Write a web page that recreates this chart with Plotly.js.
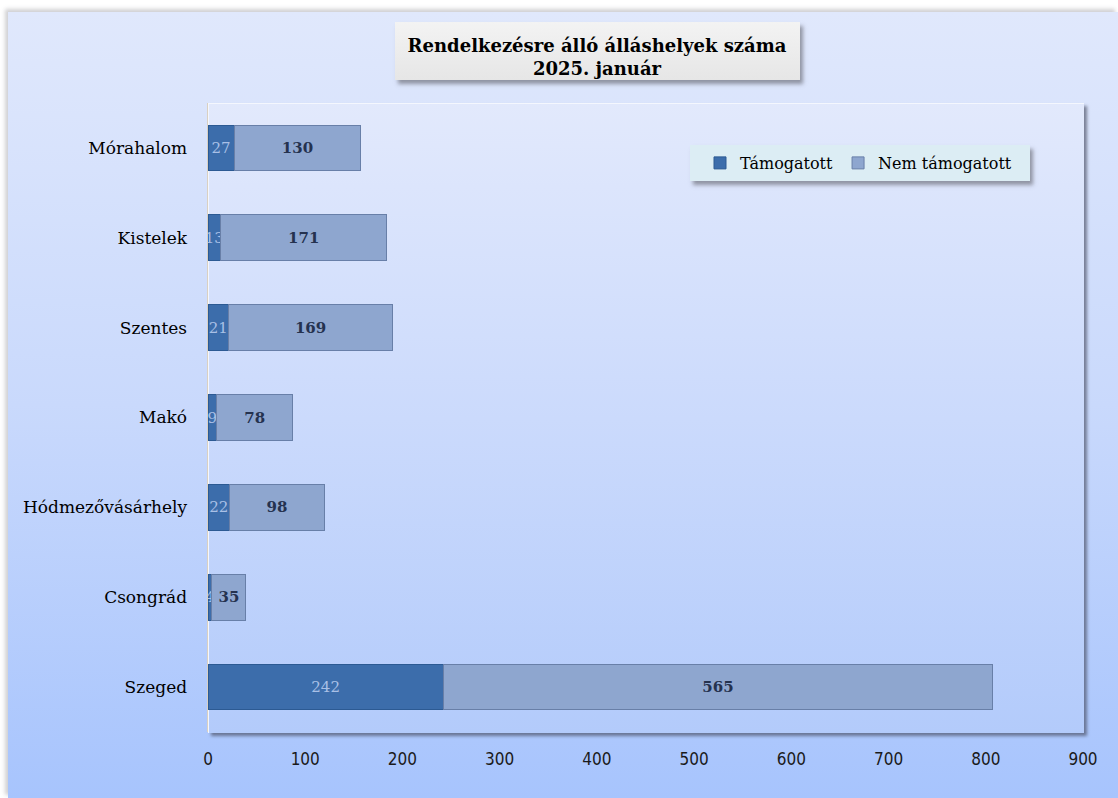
<!DOCTYPE html>
<html>
<head>
<meta charset="utf-8">
<script src="https://cdn.plot.ly/plotly-3.0.1.min.js"></script>
<style>
  html, body { margin: 0; padding: 0; background: #ffffff; }
  #wrap { position: relative; width: 1118px; height: 798px; overflow: hidden; background: #ffffff; }
  #outer { position: absolute; left: 8px; top: 12px; width: 1110px; height: 786px;
           background: linear-gradient(to bottom, #e0e8fc 0%, #c9d9fc 50%, #a7c4fd 100%);
           box-shadow: -3px -3px 4px rgba(120,120,130,0.35); }
  #plotbg { position: absolute; left: 208px; top: 103px; width: 875px; height: 629px;
            background: linear-gradient(to bottom, #e2e9fc 0%, #cbdafc 50%, #b3cbfb 100%);
            border-top: 1px solid #f4f7fe; border-left: 1px solid #f4f7fe;
            box-shadow: 3px 3px 3px rgba(70,75,95,0.65); }
  #titlebox { position: absolute; left: 395px; top: 22px; width: 405px; height: 58px;
              background: linear-gradient(to bottom, #f3f3f3, #e6e6e6);
              box-shadow: 3px 4px 4px rgba(80,80,90,0.55); }
  #legbox { position: absolute; left: 690px; top: 145px; width: 340px; height: 36px;
            background: #dcedf4; box-shadow: 3px 4px 4px rgba(80,80,90,0.55); }
  #chart { position: absolute; left: 0; top: 0; width: 1118px; height: 798px; }
</style>
</head>
<body>
<div id="wrap">
  <div id="outer"></div>
  <div id="plotbg"></div>
  <div id="titlebox"></div>
  <div id="legbox"></div>
  <div id="chart"></div>
</div>
<script>
// Categories listed bottom-to-top (Plotly draws the first category at the bottom)
const categories = ['Szeged', 'Csongrád', 'Hódmezővásárhely', 'Makó', 'Szentes', 'Kistelek', 'Mórahalom'];
const tamogatott = [242, 4, 22, 9, 21, 13, 27];
const nemTamogatott = [565, 35, 98, 78, 169, 171, 130];
const seriesNames = ['Támogatott', 'Nem támogatott'];
const xTicks = [0, 100, 200, 300, 400, 500, 600, 700, 800, 900];

const serif = '"DejaVu Serif", "Liberation Serif", serif';

const traces = [
  {
    type: 'bar', orientation: 'h', name: seriesNames[0],
    y: categories, x: tamogatott,
    text: tamogatott.map(String), textposition: 'inside', insidetextanchor: 'middle', textangle: 0,
    textfont: { family: serif, size: 15, color: '#a9c0e6' },
    marker: { color: '#3c6dab', line: { color: '#2c5a93', width: 1 } },
    hoverinfo: 'x+y+name'
  },
  {
    type: 'bar', orientation: 'h', name: seriesNames[1],
    y: categories, x: nemTamogatott,
    text: nemTamogatott.map(v => '<b>' + v + '</b>'), textposition: 'inside', insidetextanchor: 'middle', textangle: 0,
    textfont: { family: serif, size: 15, color: '#25324f' },
    marker: { color: '#8ea6cf', line: { color: '#687fa8', width: 1 } },
    hoverinfo: 'x+y+name'
  }
];

const layout = {
  width: 1118, height: 798,
  margin: { l: 208, r: 35, t: 103, b: 66, pad: 0 },
  paper_bgcolor: 'rgba(0,0,0,0)',
  plot_bgcolor: 'rgba(0,0,0,0)',
  barmode: 'stack',
  bargap: 0.49,
  uniformtext: { mode: 'show', minsize: 15 },
  title: {
    text: '<b>Rendelkezésre álló álláshelyek száma</b><br><b>2025. január</b>',
    x: 597 / 1118, xanchor: 'center', xref: 'container',
    y: 1 - 52 / 798, yanchor: 'middle', yref: 'container',
    font: { family: serif, size: 18, color: '#000000' }
  },
  showlegend: true,
  legend: {
    orientation: 'h', x: (700 - 208) / 875, xanchor: 'left',
    y: (732 - 146) / 629, yanchor: 'top',
    bgcolor: 'rgba(0,0,0,0)', borderwidth: 0,
    font: { family: serif, size: 16, color: '#000000' },
    traceorder: 'normal', itemwidth: 30
  },
  xaxis: {
    range: [0, 900], tickvals: xTicks, ticktext: xTicks.map(String),
    showgrid: false, zeroline: false, showline: false,
    ticks: 'outside', ticklen: 12, tickcolor: 'rgba(0,0,0,0)',
    tickfont: { family: '"Liberation Sans Narrow", "DejaVu Sans Condensed", "DejaVu Sans", sans-serif', size: 17, color: '#1a1a1a' },
    fixedrange: true
  },
  yaxis: {
    type: 'category', categoryorder: 'array', categoryarray: categories,
    range: [-0.5, 6.5],
    showgrid: false, zeroline: false,
    showline: true, linecolor: '#d9d0c2', linewidth: 1.5,
    ticks: 'outside', ticklen: 16, tickcolor: 'rgba(0,0,0,0)',
    tickfont: { family: serif, size: 17, color: '#000000' },
    fixedrange: true
  }
};

Plotly.newPlot('chart', traces, layout, { displayModeBar: false, staticPlot: true });
</script>
</body>
</html>
